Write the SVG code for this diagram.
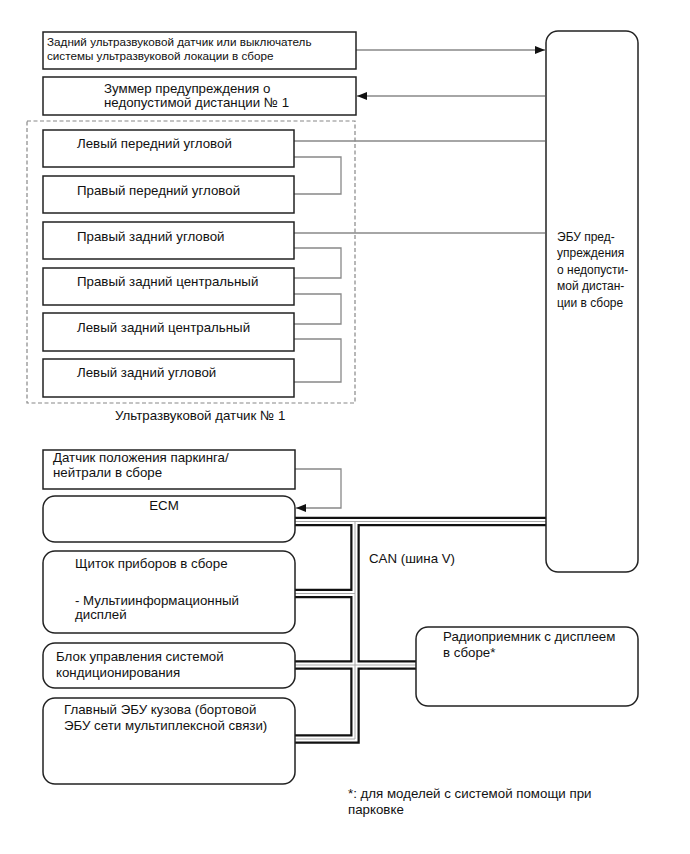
<svg xmlns="http://www.w3.org/2000/svg" width="690" height="854" viewBox="0 0 690 854">
<defs>
<style>
.box{fill:#fff;stroke:#222;stroke-width:1.5}
.t{font-family:"Liberation Sans",Arial,sans-serif;font-size:13.3px;fill:#111}
.ts{font-family:"Liberation Sans",Arial,sans-serif;font-size:11.7px;fill:#111}
.te{font-family:"Liberation Sans",Arial,sans-serif;font-size:12px;fill:#111}
.ln{fill:none;stroke:#888;stroke-width:1.3}
.dash{fill:none;stroke:#888;stroke-width:1.2;stroke-dasharray:4 2.5}
.busO{fill:none;stroke:#111;stroke-width:9.5}
.busW{fill:none;stroke:#fff;stroke-width:5}
.busG{fill:none;stroke:#aaa;stroke-width:1}
</style>
<marker id="arr" viewBox="0 0 10 8" refX="10" refY="4" markerWidth="10" markerHeight="8" markerUnits="userSpaceOnUse" orient="auto">
<path d="M0,0 L10,4 L0,8 z" fill="#111"/>
</marker>
</defs>

<g id="connectors">
<path class="ln" d="M356,50 H545" marker-end="url(#arr)"/>
<path class="ln" d="M545,96 H357" marker-end="url(#arr)"/>
<path class="ln" d="M294,141 H545"/>
<path class="ln" d="M294,233 H545"/>
<path class="ln" d="M294,157 H341 V194 H294"/>
<path class="ln" d="M294,248 H341 V278 H294"/>
<path class="ln" d="M294,294 H341 V324 H294"/>
<path class="ln" d="M294,339 H341 V382 H294"/>
<path class="ln" d="M295,469 H341 V508 H296" marker-end="url(#arr)"/>
<g id="can-bus">
<path class="busO" d="M295,521.5 H546 M355,521.5 V739 H295 M295,593.5 H355 M295,665 H416"/>
<path class="busW" d="M295,521.5 H546 M355,521.5 V739 H295 M295,593.5 H355 M295,665 H416"/>
<path class="busG" d="M295,521.5 H546 M355,521.5 V739 H295 M295,593.5 H355 M295,665 H416"/>
</g>
</g>

<g id="rear-sensor">
<rect class="box" x="43" y="32" width="313" height="37"/>
<text class="ts" x="47" y="46">Задний ультразвуковой датчик или выключатель</text>
<text class="ts" x="47" y="60">системы ультразвуковой локации в сборе</text>
</g>

<g id="buzzer">
<rect class="box" x="43" y="77" width="313" height="38"/>
<text class="t" x="104" y="93">Зуммер предупреждения о</text>
<text class="t" x="104" y="107">недопустимой дистанции № 1</text>
</g>

<g id="ultrasonic-sensor-group">
<rect class="dash" x="27" y="121" width="328" height="282"/>
<text class="t" x="115" y="420">Ультразвуковой датчик № 1</text>
</g>

<g id="lf-corner">
<rect class="box" x="43" y="130" width="251" height="37"/>
<text class="t" x="77" y="148">Левый передний угловой</text>
</g>
<g id="rf-corner">
<rect class="box" x="43" y="176" width="251" height="37"/>
<text class="t" x="77" y="195">Правый передний угловой</text>
</g>
<g id="rr-corner">
<rect class="box" x="43" y="222" width="251" height="37"/>
<text class="t" x="77" y="241">Правый задний угловой</text>
</g>
<g id="rr-center">
<rect class="box" x="43" y="268" width="251" height="37"/>
<text class="t" x="77" y="286">Правый задний центральный</text>
</g>
<g id="lr-center">
<rect class="box" x="43" y="313" width="251" height="38"/>
<text class="t" x="77" y="332">Левый задний центральный</text>
</g>
<g id="lr-corner">
<rect class="box" x="43" y="359" width="251" height="38"/>
<text class="t" x="77" y="377">Левый задний угловой</text>
</g>

<g id="ecu">
<rect class="box" x="546" y="31" width="92" height="541" rx="12" ry="12"/>
<text class="te" x="557" y="241">ЭБУ пред-</text>
<text class="te" x="557" y="257">упреждения</text>
<text class="te" x="557" y="274">о недопусти-</text>
<text class="te" x="557" y="290">мой дистан-</text>
<text class="te" x="557" y="307">ции в сборе</text>
</g>

<g id="park-neutral">
<rect class="box" x="43" y="450" width="252" height="39"/>
<text class="t" x="53" y="462">Датчик положения паркинга/</text>
<text class="t" x="53" y="477">нейтрали в сборе</text>
</g>

<g id="ecm">
<rect class="box" x="43" y="496" width="252" height="46" rx="12" ry="12"/>
<text class="t" x="164" y="510" text-anchor="middle">ECM</text>
</g>

<g id="combination-meter">
<rect class="box" x="43" y="551" width="252" height="82" rx="12" ry="12"/>
<text class="t" x="75" y="568">Щиток приборов в сборе</text>
<text class="t" x="75" y="605">- Мультиинформационный</text>
<text class="t" x="75" y="619">дисплей</text>
</g>

<g id="air-conditioner">
<rect class="box" x="43" y="643" width="252" height="45" rx="12" ry="12"/>
<text class="t" x="56" y="661">Блок управления системой</text>
<text class="t" x="56" y="677">кондиционирования</text>
</g>

<g id="main-body-ecu">
<rect class="box" x="43" y="698" width="252" height="86" rx="12" ry="12"/>
<text class="t" x="64" y="714">Главный ЭБУ кузова (бортовой</text>
<text class="t" x="64" y="730">ЭБУ сети мультиплексной связи)</text>
</g>

<g id="radio">
<rect class="box" x="416" y="627" width="222" height="79" rx="12" ry="12"/>
<text class="t" x="443" y="641">Радиоприемник с дисплеем</text>
<text class="t" x="443" y="657">в сборе*</text>
</g>

<text class="t" x="369" y="563">CAN (шина V)</text>
<text class="t" x="348" y="798">*: для моделей с системой помощи при</text>
<text class="t" x="348" y="814">парковке</text>
</svg>
